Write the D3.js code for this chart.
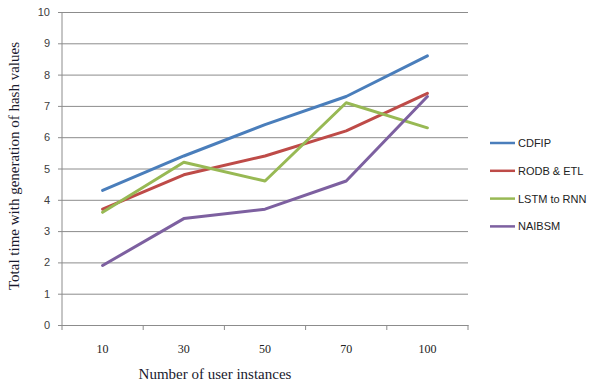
<!DOCTYPE html>
<html>
<head>
<meta charset="utf-8">
<script src="https://cdn.jsdelivr.net/npm/d3@7"></script>
<style>
  body { margin: 0; background: #fff; }
  svg { display: block; }
</style>
</head>
<body>
<svg id="chart" width="589" height="384"></svg>
<script>
// Category labels along the x axis
const categories = ["10", "30", "50", "70", "100"];
// Series values
const cdfip  = [4.3, 5.4, 6.4, 7.3, 8.6];
const rodb   = [3.7, 4.8, 5.4, 6.2, 7.4];
const lstm   = [3.6, 5.2, 4.6, 7.1, 6.3];
const naibsm = [1.9, 3.4, 3.7, 4.6, 7.3];
const seriesNames = ["CDFIP", "RODB & ETL", "LSTM to RNN", "NAIBSM"];
const yTicks = [0, 1, 2, 3, 4, 5, 6, 7, 8, 9, 10];

const series = [
  { name: seriesNames[0], values: cdfip,  color: "#4A7EBB" },
  { name: seriesNames[1], values: rodb,   color: "#BE4B48" },
  { name: seriesNames[2], values: lstm,   color: "#98B954" },
  { name: seriesNames[3], values: naibsm, color: "#7D60A0" }
];

const svg = d3.select("#chart");
const plot = { left: 62, right: 468, top: 12, bottom: 325 };

const x = d3.scaleBand().domain(categories).range([plot.left, plot.right]);
const y = d3.scaleLinear().domain([0, 10]).range([plot.bottom, plot.top]);

const sans = "'Liberation Sans', Arial, sans-serif";
const serif = "'Liberation Serif', 'Times New Roman', serif";

// Horizontal gridlines with short outer ticks
const yAxis = d3.axisLeft(y).tickValues(yTicks).tickSize(plot.right - plot.left + 4).tickPadding(8);
const gy = svg.append("g")
  .attr("transform", `translate(${plot.right},0)`)
  .call(yAxis);
gy.select(".domain").remove();
gy.selectAll(".tick line").attr("stroke", "#8c8c8c").attr("stroke-width", 1);
gy.selectAll(".tick text")
  .attr("fill", "#404040")
  .style("font-family", sans)
  .style("font-size", "11px");

// Vertical value axis line
svg.append("line")
  .attr("x1", plot.left).attr("x2", plot.left)
  .attr("y1", plot.top).attr("y2", plot.bottom)
  .attr("stroke", "#8c8c8c");

// Category axis with tick marks between categories
const gx = svg.append("g")
  .attr("transform", `translate(0,${plot.bottom})`)
  .call(d3.axisBottom(x).tickSize(0).tickPadding(19));
gx.select(".domain").attr("stroke", "#8c8c8c");
gx.selectAll(".tick text")
  .attr("fill", "#222")
  .style("font-family", serif)
  .style("font-size", "12px");
const bounds = categories.map(c => x(c)).concat([plot.right]);
gx.selectAll(".sep").data(bounds).enter().append("line")
  .attr("x1", d => d).attr("x2", d => d)
  .attr("y1", 0).attr("y2", 5)
  .attr("stroke", "#8c8c8c");

// Series lines
const line = d3.line()
  .x((d, i) => x(categories[i]) + x.bandwidth() / 2)
  .y(d => y(d));

svg.selectAll(".series").data(series).enter().append("path")
  .attr("class", "series")
  .attr("d", d => line(d.values))
  .attr("fill", "none")
  .attr("stroke", d => d.color)
  .attr("stroke-width", 3)
  .attr("stroke-linejoin", "round")
  .attr("stroke-linecap", "round");

// Axis titles
svg.append("text")
  .attr("transform", "translate(19,166) rotate(-90)")
  .attr("text-anchor", "middle")
  .attr("fill", "#1a1a2e")
  .style("font-family", serif)
  .style("font-size", "15px")
  .text("Total time with generation of hash values");

svg.append("text")
  .attr("x", 215).attr("y", 379)
  .attr("text-anchor", "middle")
  .attr("fill", "#1a1a2e")
  .style("font-family", serif)
  .style("font-size", "15px")
  .text("Number of user instances");

// Legend
const legend = svg.append("g").attr("transform", "translate(490,143)");
const items = legend.selectAll("g").data(series).enter().append("g")
  .attr("transform", (d, i) => `translate(0,${i * 27.8})`);
items.append("line")
  .attr("x1", 0).attr("x2", 25)
  .attr("stroke", d => d.color).attr("stroke-width", 2.5);
items.append("text")
  .attr("x", 28).attr("y", 4)
  .attr("fill", "#222")
  .style("font-family", sans)
  .style("font-size", "11px")
  .text(d => d.name);
</script>
</body>
</html>
